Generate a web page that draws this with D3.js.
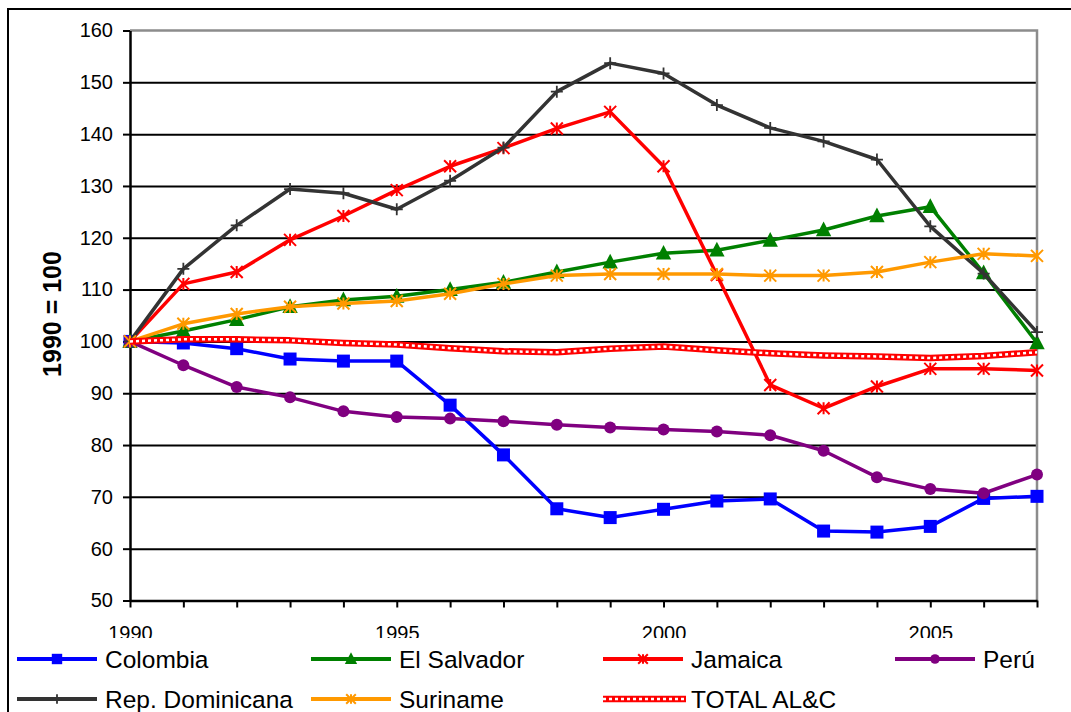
<!DOCTYPE html>
<html lang="es">
<head>
  <meta charset="UTF-8">
  <title>Índice 1990 = 100</title>
  <script src="https://d3js.org/d3.v7.min.js"></script>
  <style>
    body { margin: 0; background: #fff; }
    svg { display: block; font-family: "Liberation Sans", Arial, sans-serif; }
  </style>
</head>
<body>
  <svg id="chart" width="1071" height="712"></svg>

  <script>
    // Data
    const years = d3.range(1990, 2008);
    const xLabels = [1990, 1995, 2000, 2005];
    const yTicks = [50, 60, 70, 80, 90, 100, 110, 120, 130, 140, 150, 160];

    const colombia = [100, 99.7, 98.6, 96.6, 96.2, 96.2, 87.7, 78.1, 67.7, 66.0, 67.6, 69.2, 69.6, 63.4, 63.2, 64.3, 69.7, 70.1];
    const elSalvador = [100, 102.0, 104.2, 106.7, 108.0, 108.7, 110.0, 111.4, 113.4, 115.3, 117.0, 117.6, 119.5, 121.5, 124.2, 126.0, 113.2, 99.7];
    const jamaica = [100, 111.1, 113.4, 119.6, 124.2, 129.2, 133.8, 137.3, 141.1, 144.3, 133.8, 112.8, 91.6, 87.1, 91.3, 94.7, 94.7, 94.4];
    const peru = [100, 95.4, 91.2, 89.2, 86.5, 85.4, 85.1, 84.6, 83.9, 83.4, 83.0, 82.6, 81.9, 78.9, 73.8, 71.5, 70.7, 74.3];
    const repDominicana = [100, 114.0, 122.4, 129.4, 128.6, 125.5, 131.0, 137.4, 148.2, 153.7, 151.7, 145.6, 141.2, 138.6, 135.1, 122.2, 113.1, 101.8];
    const suriname = [100, 103.4, 105.3, 106.7, 107.3, 107.8, 109.2, 111.1, 112.7, 113.0, 113.0, 113.0, 112.7, 112.7, 113.4, 115.3, 116.9, 116.5];
    const totalALC = [100, 100.4, 100.4, 100.2, 99.7, 99.4, 98.7, 98.1, 97.9, 98.6, 99.0, 98.3, 97.7, 97.3, 97.1, 96.8, 97.2, 97.9];

    const seriesNames = ["Colombia", "El Salvador", "Jamaica", "Perú", "Rep. Dominicana", "Suriname", "TOTAL AL&C"];
    const seriesValues = [colombia, elSalvador, jamaica, peru, repDominicana, suriname, totalALC];
    const seriesColors = ["#0000ff", "#008000", "#ff0000", "#800080", "#333333", "#ff9900", "#ff0000"];
    const seriesMarkers = ["square", "triangle", "asterisk", "circle", "plus", "asterisk", "chain"];

    const svg = d3.select("#chart");

    // plot area
    const plotLeft = 130, plotRight = 1037, plotTop = 30.5, plotBottom = 600.5;

    const x = d3.scaleLinear().domain([1990, 2007]).range([plotLeft, plotRight]);
    const y = d3.scaleLinear().domain([50, 160]).range([plotBottom, plotTop]);

    // outer frame
    svg.append("rect")
       .attr("x", 8).attr("y", 9)
       .attr("width", 1200).attr("height", 900)
       .attr("fill", "#fff")
       .attr("stroke", "#000")
       .attr("stroke-width", 2);

    // gridlines
    svg.append("g")
       .attr("transform", `translate(${plotLeft},0)`)
       .call(d3.axisLeft(y).tickValues(yTicks.slice(1, -1)).tickSize(-(plotRight - plotLeft)).tickFormat(""))
       .call(g => g.select(".domain").remove())
       .call(g => g.selectAll("line").attr("stroke", "#000").attr("stroke-width", 2));

    // plot border top / right (grey)
    svg.append("path")
       .attr("d", `M${plotLeft},${plotTop}H${plotRight}V${plotBottom}`)
       .attr("fill", "none")
       .attr("stroke", "#8c8c8c")
       .attr("stroke-width", 2.5);

    // y axis
    svg.append("g")
       .attr("transform", `translate(${plotLeft},0)`)
       .call(d3.axisLeft(y).tickValues(yTicks).tickSizeInner(7).tickSizeOuter(0).tickPadding(10))
       .call(g => g.select(".domain").attr("stroke", "#000").attr("stroke-width", 2.5))
       .call(g => g.selectAll(".tick line").attr("stroke", "#000").attr("stroke-width", 2))
       .call(g => g.selectAll(".tick text")
                   .attr("fill", "#000")
                   .style("font-size", "20px")
                   .style("font-family", "Liberation Sans, Arial, sans-serif"));

    // x axis
    svg.append("g")
       .attr("transform", `translate(0,${plotBottom})`)
       .call(d3.axisBottom(x).tickValues(years).tickSizeInner(7).tickSizeOuter(0).tickPadding(18)
               .tickFormat(d => xLabels.includes(d) ? String(d) : ""))
       .call(g => g.select(".domain").attr("stroke", "#000").attr("stroke-width", 2.5))
       .call(g => g.selectAll(".tick line").attr("stroke", "#000").attr("stroke-width", 2))
       .call(g => g.selectAll(".tick text")
                   .attr("fill", "#000")
                   .style("font-size", "20px")
                   .style("font-family", "Liberation Sans, Arial, sans-serif"));

    // y axis title
    svg.append("text")
       .attr("transform", "translate(61,314) rotate(-90)")
       .attr("text-anchor", "middle")
       .style("font-size", "25px")
       .style("font-weight", "bold")
       .text("1990 = 100");

    // marker drawing
    function drawMarker(g, type, color, s) {
      if (type === "square") {
        g.append("rect").attr("x", -s / 2).attr("y", -s / 2).attr("width", s).attr("height", s).attr("fill", color);
      } else if (type === "triangle") {
        g.append("path").attr("d", `M0,${-s * 0.6}L${s * 0.55},${s * 0.45}L${-s * 0.55},${s * 0.45}Z`).attr("fill", color);
      } else if (type === "circle") {
        g.append("circle").attr("r", s / 2).attr("fill", color);
      } else if (type === "asterisk") {
        const h = s / 2;
        g.append("path")
         .attr("d", `M0,${-h}V${h}M${-h},${-h}L${h},${h}M${-h},${h}L${h},${-h}`)
         .attr("stroke", color).attr("stroke-width", 2).attr("fill", "none");
      } else if (type === "plus") {
        const h = s / 2;
        g.append("path")
         .attr("d", `M0,${-h}V${h}M${-h},0H${h}`)
         .attr("stroke", color).attr("stroke-width", 1.8).attr("fill", "none");
      }
    }

    const markerSize = { square: 13, triangle: 14, circle: 12, asterisk: 12, plus: 12 };

    const line = d3.line().x((d, i) => x(years[i])).y(d => y(d));

    // "chain" style: thick red stroke with small white holes
    function chain(sel, d) {
      sel.append("path").attr("d", d).attr("fill", "none")
         .attr("stroke", "#ff0000").attr("stroke-width", 6.5).attr("stroke-linejoin", "round");
      sel.append("path").attr("d", d).attr("fill", "none")
         .attr("stroke", "#fff").attr("stroke-width", 2.5).attr("stroke-dasharray", "3,3");
    }

    seriesValues.forEach((vals, k) => {
      const color = seriesColors[k];
      const type = seriesMarkers[k];
      const g = svg.append("g");
      if (type === "chain") {
        chain(g, line(vals));
      } else {
        g.append("path").attr("d", line(vals)).attr("fill", "none")
         .attr("stroke", color).attr("stroke-width", 3.5).attr("stroke-linejoin", "round");
        vals.forEach((v, i) => {
          const m = g.append("g").attr("transform", `translate(${x(years[i])},${y(v)})`);
          drawMarker(m, type, color, markerSize[type]);
        });
      }
    });

    // legend
    const legend = svg.append("g");
    legend.append("rect")
          .attr("x", 9).attr("y", 638)
          .attr("width", 1062).attr("height", 80)
          .attr("fill", "#fff");

    const colX = [17, 311, 603, 895];
    const rowY = [659, 699];
    seriesNames.forEach((name, k) => {
      const lx = colX[k % 4], ly = rowY[Math.floor(k / 4)];
      const color = seriesColors[k];
      const type = seriesMarkers[k];
      const item = legend.append("g");
      if (type === "chain") {
        chain(item, `M${lx},${ly}H${lx + 83}`);
      } else {
        item.append("line").attr("x1", lx).attr("x2", lx + 80).attr("y1", ly).attr("y2", ly)
            .attr("stroke", color).attr("stroke-width", 4);
        const m = item.append("g").attr("transform", `translate(${lx + 40},${ly})`);
        drawMarker(m, type, color, markerSize[type] * 0.8);
      }
      item.append("text")
          .attr("x", lx + 88)
          .attr("y", ly + 9)
          .style("font-size", "24.5px")
          .text(name);
    });
  </script>
</body>
</html>
